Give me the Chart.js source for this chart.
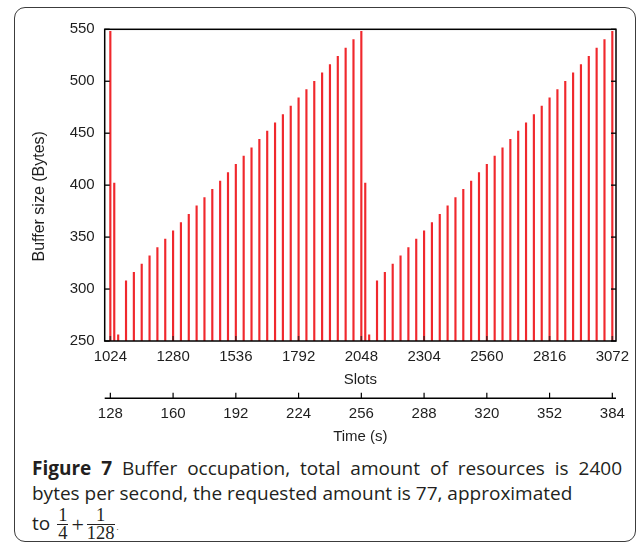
<!DOCTYPE html>
<html>
<head>
<meta charset="utf-8">
<script src="https://cdn.jsdelivr.net/npm/chart.js@4/dist/chart.umd.min.js"></script>
<style>
  html, body { margin:0; padding:0; background:#fff; }
  body { width:639px; height:544px; position:relative; overflow:hidden; }
  #frame { position:absolute; left:14px; top:7px; width:620px; height:533px; border:1.6px solid #3c3c3c; border-radius:11px; }
  #c { position:absolute; left:0; top:0; }
  .cap { position:absolute; left:32px; font-family:"Open Sans", "Noto Sans", sans-serif; font-size:19px; line-height:24px; color:#231f20; white-space:nowrap; }
  .cap b { font-weight:700; }
  .frac { display:inline-block; vertical-align:middle; text-align:center; font-family:"Liberation Serif", "DejaVu Serif", serif; font-size:18.5px; margin:0 2px; }
  .frac .num { display:block; line-height:15px; padding:0 1px 1px; border-bottom:1.7px solid #231f20; }
  .frac .den { display:block; line-height:17px; }
  .plus { font-family:"Liberation Serif", serif; font-size:22px; vertical-align:middle; margin:0 1px; }
</style>
</head>
<body>
<div id="frame"></div>
<canvas id="c" width="639" height="450"></canvas>
<div class="cap" style="top:456px;word-spacing:5px"><b>Figure 7</b> Buffer occupation, total amount of resources is 2400</div>
<div class="cap" style="top:480.5px">bytes per second, the requested amount is 77, approximated</div>
<div class="cap" style="top:508px">to <span class="frac"><span class="num">1</span><span class="den">4</span></span><span class="plus">+</span><span class="frac"><span class="num">1</span><span class="den">128</span></span><span style="font-size:8px">.</span></div>
<script>
// ---- data ----
const slots = [1024,1040,1056,1088,1120,1152,1184,1216,1248,1280,1312,1344,1376,1408,1440,1472,1504,1536,1568,1600,1632,1664,1696,1728,1760,1792,1824,1856,1888,1920,1952,1984,2016,2048,
               2064,2080,2112,2144,2176,2208,2240,2272,2304,2336,2368,2400,2432,2464,2496,2528,2560,2592,2624,2656,2688,2720,2752,2784,2816,2848,2880,2912,2944,2976,3008,3040,3072];
const bufferBytes = [548,402,256,308,316,324,332,340,348,356,364,372,380,388,396,404,412,420,428,436,444,452,460,468,476,484,492,500,508,516,524,532,540,548,
               402,256,308,316,324,332,340,348,356,364,372,380,388,396,404,412,420,428,436,444,452,460,468,476,484,492,500,508,516,524,532,540,548];
const slotTicks = [1024,1280,1536,1792,2048,2304,2560,2816,3072];
const timeTicks = [128,160,192,224,256,288,320,352,384];
const yTicks = [250,300,350,400,450,500,550];

const X_MIN = 1001, X_MAX = 3087;
const SLOTS_PER_SECOND = 8;

const tickFont = { family: "'Liberation Sans', Arial, sans-serif", size: 15 };
const tickColor = '#1e1e1e';

const framePlugin = {
  id: 'frameTicks',
  afterDatasetsDraw(chart) {
    const { ctx, chartArea: a, scales } = chart;
    const x = scales.x, x2 = scales.x2, y = scales.y;
    ctx.save();
    // bottom inward ticks
    ctx.strokeStyle = 'rgba(30,30,30,0.7)';
    ctx.lineWidth = 1.6;
    slotTicks.forEach(v => {
      const px = x.getPixelForValue(v);
      ctx.beginPath(); ctx.moveTo(px, a.bottom); ctx.lineTo(px, a.bottom - 5); ctx.stroke();
    });
    // left/right inward ticks
    ctx.strokeStyle = '#000';
    ctx.lineWidth = 1.3;
    yTicks.forEach(v => {
      const py = y.getPixelForValue(v);
      ctx.beginPath(); ctx.moveTo(a.left, py); ctx.lineTo(a.left + 5, py); ctx.stroke();
      ctx.beginPath(); ctx.moveTo(a.right, py); ctx.lineTo(a.right - 5, py); ctx.stroke();
    });
    // frame
    ctx.lineWidth = 1.5;
    ctx.strokeRect(a.left, a.top, a.right - a.left, a.bottom - a.top);
    // time axis line and upward ticks
    const ty = x2.top + 0.5;
    ctx.lineWidth = 1.5;
    ctx.beginPath(); ctx.moveTo(a.left, ty); ctx.lineTo(a.right, ty); ctx.stroke();
    ctx.lineWidth = 1.2;
    timeTicks.forEach(v => {
      const px = x2.getPixelForValue(v);
      ctx.beginPath(); ctx.moveTo(px, ty); ctx.lineTo(px, ty - 5.5); ctx.stroke();
    });
    ctx.restore();
  }
};

const plain = v => String(v);

new Chart(document.getElementById('c'), {
  type: 'bar',
  data: {
    datasets: [{
      data: slots.map((s, i) => ({ x: s, y: bufferBytes[i] })),
      backgroundColor: 'rgb(240,40,45)',
      borderWidth: 0,
      barThickness: 1.5,
      base: 250
    }]
  },
  plugins: [framePlugin],
  options: {
    responsive: false,
    animation: false,
    devicePixelRatio: 1,
    layout: { padding: { left: 0, right: 23, top: 29.3, bottom: 0 } },
    plugins: { legend: { display: false }, tooltip: { enabled: false } },
    scales: {
      x: {
        type: 'linear', position: 'bottom', weight: 0, offset: false,
        min: X_MIN, max: X_MAX,
        afterBuildTicks: s => { s.ticks = slotTicks.map(v => ({ value: v })); },
        afterFit: s => { s.height = 56.7; },
        grid: { display: false, drawTicks: false, offset: false },
        border: { display: false },
        ticks: { font: tickFont, color: tickColor, padding: 7, maxRotation: 0, autoSkip: false, callback: plain },
        title: { display: true, text: 'Slots', font: tickFont, color: tickColor, padding: { top: 0, bottom: 9 } }
      },
      x2: {
        type: 'linear', position: 'bottom', weight: 1, offset: false,
        min: X_MIN / SLOTS_PER_SECOND, max: X_MAX / SLOTS_PER_SECOND,
        afterBuildTicks: s => { s.ticks = timeTicks.map(v => ({ value: v })); },
        afterFit: s => { s.height = 52.3; },
        grid: { display: false, drawTicks: false, offset: false },
        border: { display: false },
        ticks: { font: tickFont, color: tickColor, padding: 7, maxRotation: 0, autoSkip: false, callback: plain },
        title: { display: true, text: 'Time (s)', font: tickFont, color: tickColor, padding: { top: 0, bottom: 4.6 } }
      },
      y: {
        type: 'linear', position: 'left',
        min: 250, max: 550,
        afterBuildTicks: s => { s.ticks = yTicks.map(v => ({ value: v })); },
        afterFit: s => { s.width = 104.7; },
        grid: { display: false, drawTicks: false },
        border: { display: false },
        ticks: { font: tickFont, color: tickColor, padding: 10, callback: plain },
        title: { display: true, text: 'Buffer size (Bytes)\u00a0\u00a0\u00a0\u00a0\u00a0', font: { family: "'Liberation Sans', Arial, sans-serif", size: 16 }, color: tickColor, padding: { top: 30, bottom: 0 } }
      }
    }
  }
});
</script>
</body>
</html>
